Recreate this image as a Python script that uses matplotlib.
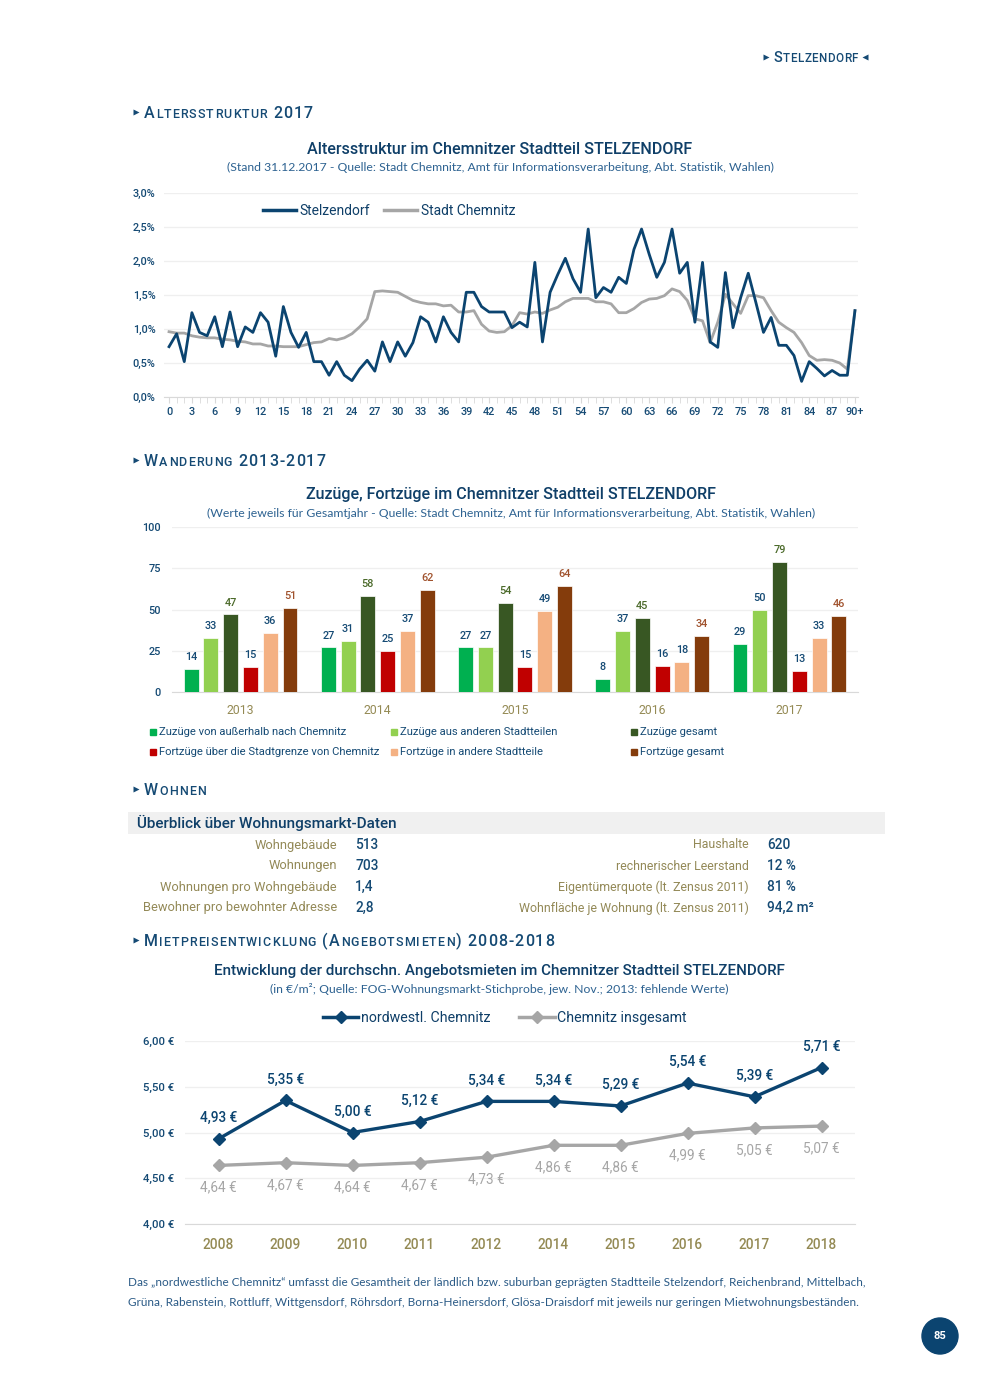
import numpy as np
import matplotlib
matplotlib.use('Agg')
import matplotlib.pyplot as plt
import matplotlib.patches as patches
from matplotlib.lines import Line2D

# Seite Stelzendorf : Altersstruktur, Wanderung, Wohnen, Mietpreise

W, H = 990, 1389
plt.rcParams['font.family'] = ['Roboto', 'DejaVu Sans']

NAVY = '#0b4470'
DUNKELBLAU = '#154a74'
TITELBLAU = '#0f3f68'
HELLBLAU = '#2d6291'
OLIV = '#948a54'
GRAU = '#a6a6a6'
GITTER = '#efefef'
ACHSE = '#d9d9d9'

############################### Daten #################################
# Altersstruktur 2017 (Anteil je Altersjahr in %)
alter = list(range(91))
alter_labels = [str(a) for a in range(0, 90, 3)] + ['90+']
stelzendorf = [0.74, 0.93, 0.52, 1.24, 0.95, 0.90, 1.18, 0.74, 1.25, 0.74,
               1.03, 0.95, 1.24, 1.10, 0.60, 1.33, 0.95, 0.73, 0.95, 0.52,
               0.52, 0.32, 0.52, 0.32, 0.24, 0.41, 0.54, 0.38, 0.81, 0.52,
               0.81, 0.60, 0.80, 1.18, 1.10, 0.81, 1.18, 0.95, 0.81, 1.54,
               1.54, 1.33, 1.25, 1.25, 1.25, 1.02, 1.10, 1.03, 1.98, 0.81,
               1.54, 1.80, 2.04, 1.74, 1.54, 2.47, 1.46, 1.61, 1.54, 1.76,
               1.67, 2.17, 2.47, 2.10, 1.76, 1.98, 2.47, 1.82, 1.98, 1.10,
               1.98, 0.81, 0.73, 1.83, 1.02, 1.46, 1.82, 1.39, 0.95, 1.17,
               0.76, 0.76, 0.61, 0.23, 0.52, 0.42, 0.31, 0.39, 0.32, 0.32,
               1.27]
chemnitz = [0.96, 0.94, 0.94, 0.90, 0.88, 0.87, 0.87, 0.85, 0.84, 0.82,
            0.81, 0.78, 0.78, 0.75, 0.75, 0.74, 0.74, 0.74, 0.77, 0.80,
            0.81, 0.86, 0.84, 0.87, 0.93, 1.03, 1.15, 1.55, 1.56, 1.55,
            1.54, 1.48, 1.42, 1.39, 1.37, 1.37, 1.34, 1.35, 1.25, 1.25,
            1.27, 1.07, 0.97, 0.95, 0.96, 1.05, 1.24, 1.22, 1.25, 1.23,
            1.28, 1.32, 1.40, 1.45, 1.45, 1.45, 1.40, 1.40, 1.37, 1.24,
            1.24, 1.30, 1.39, 1.44, 1.45, 1.49, 1.59, 1.55, 1.42, 1.15,
            1.12, 0.80, 1.10, 1.51, 1.37, 1.23, 1.49, 1.49, 1.46, 1.27,
            1.10, 1.02, 0.95, 0.80, 0.61, 0.54, 0.55, 0.54, 0.50, 0.41,
            1.27]

# Wanderung 2013-2017
jahre_wanderung = ['2013', '2014', '2015', '2016', '2017']
zuzuege_aussen = [14, 27, 27, 8, 29]
zuzuege_stadtteile = [33, 31, 27, 37, 50]
zuzuege_gesamt = [47, 58, 54, 45, 79]
fortzuege_aussen = [15, 25, 15, 16, 13]
fortzuege_stadtteile = [36, 37, 49, 18, 33]
fortzuege_gesamt = [51, 62, 64, 34, 46]
serien_namen = ['Zuzüge von außerhalb nach Chemnitz', 'Zuzüge aus anderen Stadtteilen',
                'Zuzüge gesamt', 'Fortzüge über die Stadtgrenze von Chemnitz',
                'Fortzüge in andere Stadtteile', 'Fortzüge gesamt']

# Wohnen
wohnen_links_labels = ['Wohngebäude', 'Wohnungen', 'Wohnungen pro Wohngebäude',
                       'Bewohner pro bewohnter Adresse']
wohnen_links_werte = ['513', '703', '1,4', '2,8']
wohnen_rechts_labels = ['Haushalte', 'rechnerischer Leerstand',
                        'Eigentümerquote (lt. Zensus 2011)',
                        'Wohnfläche je Wohnung (lt. Zensus 2011)']
wohnen_rechts_werte = ['620', '12 %', '81 %', '94,2 m²']

# Angebotsmieten (2013 fehlt)
miete_jahre = ['2008', '2009', '2010', '2011', '2012', '2014', '2015', '2016', '2017', '2018']
miete_nordwest = [4.93, 5.35, 5.00, 5.12, 5.34, 5.34, 5.29, 5.54, 5.39, 5.71]
miete_chemnitz = [4.64, 4.67, 4.64, 4.67, 4.73, 4.86, 4.86, 4.99, 5.05, 5.07]

fussnote = ['Das „nordwestliche Chemnitz“ umfasst die Gesamtheit der ländlich bzw. suburban geprägten '
            'Stadtteile Stelzendorf, Reichenbrand, Mittelbach,',
            'Grüna, Rabenstein, Rottluff, Wittgensdorf, Röhrsdorf, Borna-Heinersdorf, Glösa-Draisdorf '
            'mit jeweils nur geringen Mietwohnungsbeständen.']
#######################################################################


def rect(x0, y0, x1, y1):
    # Pixelkoordinaten (von oben) -> Figure-Koordinaten
    return [x0 / W, 1 - y1 / H, (x1 - x0) / W, (y1 - y0) / H]


def komma(v, fmt):
    return format(v, fmt).replace('.', ',')


fig = plt.figure(figsize=(W / 100, H / 100), dpi=100)
page = fig.add_axes([0, 0, 1, 1])
page.set_xlim(0, W)
page.set_ylim(H, 0)
page.axis('off')


def kapitaelchen(x, y, txt, gross=11.5, klein=9.0, abstand=0.8, farbe=DUNKELBLAU, mitte=6.5):
    # Kapitälchen mit Sperrung : jeder Buchstabe einzeln, an den vorherigen angehängt
    page.plot([x + 3], [y - mitte], marker='>', ms=5, color=farbe, mec='none')
    t = None
    prev_ch = ' '
    for ch in txt:
        size = klein if (ch.isalpha() and prev_ch.isalpha()) else gross
        if t is None:
            t = page.text(x + 11, y, ch, va='baseline', ha='left', fontsize=size, color=farbe,
                          fontweight='medium')
        else:
            t = page.annotate(ch, xy=(1, y), xycoords=(t, 'data'),
                              xytext=(abstand, 0), textcoords='offset points',
                              va='baseline', ha='left', fontsize=size, color=farbe,
                              fontweight='medium')
        prev_ch = ch
    return t


def titel(x, y, haupt, unter, groesse=11.6):
    page.text(x, y, haupt, ha='center', va='center', fontsize=groesse, color=TITELBLAU,
              fontweight='medium')
    page.text(x, y + 18, unter, ha='center', va='center', fontsize=8.8, color=HELLBLAU,
              family=['Lato', 'DejaVu Sans'])


# Kopfzeile
kapitaelchen(763, 62, 'STELZENDORF', gross=10.5, klein=8.4, abstand=0.3, mitte=5.5)
page.plot([865], [56.5], marker='<', ms=5, color=DUNKELBLAU, mec='none')

###################################### Altersstruktur ######################################
kapitaelchen(133, 118, 'ALTERSSTRUKTUR 2017')
titel(500, 149, 'Altersstruktur im Chemnitzer Stadtteil STELZENDORF',
      '(Stand 31.12.2017 - Quelle: Stadt Chemnitz, Amt für Informationsverarbeitung, Abt. Statistik, Wahlen)')

ax1 = fig.add_axes(rect(164, 193, 858, 397))
ax1.set_facecolor('none')
ax1.plot(alter, chemnitz, color=GRAU, lw=2.0, zorder=2)
ax1.plot(alter, stelzendorf, color=NAVY, lw=2.0, zorder=3)
ax1.set_xlim(-0.66, 90.4)
ax1.set_ylim(0, 3.0)
yt = np.arange(0, 3.01, 0.5)
ax1.set_yticks(yt)
ax1.set_yticklabels([komma(v, '.1f') + '%' for v in yt])
ax1.set_xticks(range(0, 91, 3))
ax1.set_xticklabels(alter_labels)
ax1.set_xticks(range(91), minor=True)
ax1.yaxis.grid(True, color=GITTER, lw=0.9)
ax1.set_axisbelow(True)
for s in ['top', 'right', 'left']:
    ax1.spines[s].set_visible(False)
ax1.spines['bottom'].set_color(ACHSE)
ax1.tick_params(axis='x', which='both', length=4, color=ACHSE, labelsize=7.8,
                labelcolor=DUNKELBLAU, pad=3)
ax1.tick_params(axis='y', length=0, labelsize=7.8, labelcolor=DUNKELBLAU, pad=6)
for lab in ax1.get_xticklabels() + ax1.get_yticklabels():
    lab.set_fontweight('medium')
handles1 = [Line2D([], [], color=NAVY, lw=2.5), Line2D([], [], color=GRAU, lw=2.5)]
ax1.legend(handles1, ['Stelzendorf', 'Stadt Chemnitz'], loc='center left',
           bbox_to_anchor=(0.142, 0.912), ncol=2, frameon=False, fontsize=10,
           handlelength=2.4, handletextpad=0.25, columnspacing=1.0,
           borderaxespad=0, borderpad=0, labelcolor=TITELBLAU)

###################################### Wanderung ######################################
kapitaelchen(133, 466, 'WANDERUNG 2013-2017')
titel(511, 495, 'Zuzüge, Fortzüge im Chemnitzer Stadtteil STELZENDORF',
      '(Werte jeweils für Gesamtjahr - Quelle: Stadt Chemnitz, Amt für Informationsverarbeitung, Abt. Statistik, Wahlen)')

serien = [zuzuege_aussen, zuzuege_stadtteile, zuzuege_gesamt,
          fortzuege_aussen, fortzuege_stadtteile, fortzuege_gesamt]
farben = ['#00b050', '#92d050', '#385723', '#c00000', '#f4b183', '#843c0c']
label_farben = [DUNKELBLAU, DUNKELBLAU, '#4b6a2a', DUNKELBLAU, DUNKELBLAU, '#a0522d']

ax2 = fig.add_axes(rect(172, 527, 858, 692))
ax2.set_facecolor('none')
x = np.arange(len(jahre_wanderung))
breite = 0.109
abstand = 0.144
for i, (werte, farbe, lf) in enumerate(zip(serien, farben, label_farben)):
    bars = ax2.bar(x + (i - 2.5) * abstand, werte, width=breite, color=farbe,
                   edgecolor='white', linewidth=0.5, zorder=3)
    ax2.bar_label(bars, padding=5, fontsize=7.8, color=lf, fontweight='medium')
ax2.set_xlim(-0.5, 4.5)
ax2.set_ylim(0, 100)
ax2.set_yticks([0, 25, 50, 75, 100])
ax2.set_xticks(x)
ax2.set_xticklabels(jahre_wanderung)
ax2.yaxis.grid(True, color=GITTER, lw=0.9)
ax2.set_axisbelow(True)
for s in ['top', 'right', 'left']:
    ax2.spines[s].set_visible(False)
ax2.spines['bottom'].set_color(ACHSE)
ax2.tick_params(axis='x', length=0, labelsize=8.8, labelcolor=OLIV, pad=9)
ax2.tick_params(axis='y', length=0, labelsize=7.8, labelcolor=DUNKELBLAU, pad=8)
for lab in ax2.get_yticklabels():
    lab.set_fontweight('medium')

# Legende unter dem Diagramm
spalten_x = [153, 394, 634]
zeilen_y = [732, 752]
for i, (name, farbe) in enumerate(zip(serien_namen, farben)):
    px = spalten_x[i % 3]
    py = zeilen_y[i // 3]
    page.add_patch(patches.Rectangle((px - 3, py - 3), 6, 6, color=farbe))
    page.text(px + 6, py, name, va='center', fontsize=8.1, color=DUNKELBLAU)

###################################### Wohnen ######################################
kapitaelchen(133, 795, 'WOHNEN')
page.add_patch(patches.Rectangle((128, 812), 757, 22, color='#f0f0f0', lw=0))
page.text(137, 823, 'Überblick über Wohnungsmarkt-Daten', va='center', fontsize=11,
          color=TITELBLAU, fontweight='medium')
zeilen = [845, 866, 887, 908]
for zy, l1, w1, l2, w2 in zip(zeilen, wohnen_links_labels, wohnen_links_werte,
                              wohnen_rechts_labels, wohnen_rechts_werte):
    page.text(337, zy, l1, ha='right', va='center', fontsize=9.3, color='#938957')
    page.text(355, zy, w1, ha='left', va='center', fontsize=9.8, color=DUNKELBLAU,
              fontweight='medium')
    page.text(749, zy, l2, ha='right', va='center', fontsize=8.9, color='#938957')
    page.text(767, zy, w2, ha='left', va='center', fontsize=9.8, color=DUNKELBLAU,
              fontweight='medium')

###################################### Mietpreise ######################################
kapitaelchen(133, 946, 'MIETPREISENTWICKLUNG (ANGEBOTSMIETEN) 2008-2018')
titel(499, 971, 'Entwicklung der durchschn. Angebotsmieten im Chemnitzer Stadtteil STELZENDORF',
      '(in €/m²; Quelle: FOG-Wohnungsmarkt-Stichprobe, jew. Nov.; 2013: fehlende Werte)',
      groesse=10.9)

ax4 = fig.add_axes(rect(185, 1041, 855, 1224))
ax4.set_facecolor('none')
xm = np.arange(len(miete_jahre))
ax4.plot(xm, miete_chemnitz, color=GRAU, lw=2.4, marker='D', ms=6.5, zorder=3)
ax4.plot(xm, miete_nordwest, color=NAVY, lw=2.4, marker='D', ms=6.5, zorder=4)
for xi, v in zip(xm, miete_nordwest):
    ax4.annotate(komma(v, '.2f') + ' €', (xi, v), xytext=(0, 15), textcoords='offset points',
                 ha='center', va='center', fontsize=9.8, color=NAVY, fontweight='medium')
for xi, v in zip(xm, miete_chemnitz):
    ax4.annotate(komma(v, '.2f') + ' €', (xi, v), xytext=(0, -16), textcoords='offset points',
                 ha='center', va='center', fontsize=9.8, color=GRAU)
ax4.set_xlim(-0.5, 9.5)
ax4.set_ylim(4.0, 6.0)
ytm = np.arange(4.0, 6.01, 0.5)
ax4.set_yticks(ytm)
ax4.set_yticklabels([komma(v, '.2f') + ' €' for v in ytm])
ax4.set_xticks(xm)
ax4.set_xticklabels(miete_jahre)
ax4.yaxis.grid(True, color=GITTER, lw=0.9)
ax4.set_axisbelow(True)
for s in ['top', 'right', 'left']:
    ax4.spines[s].set_visible(False)
ax4.spines['bottom'].set_color(ACHSE)
ax4.tick_params(axis='x', length=0, labelsize=9.8, labelcolor=OLIV, pad=10)
ax4.tick_params(axis='y', length=0, labelsize=8.2, labelcolor=DUNKELBLAU, pad=8)
for lab in ax4.get_yticklabels() + ax4.get_xticklabels():
    lab.set_fontweight('medium')
handles4 = [Line2D([], [], color=NAVY, lw=2.5, marker='D', ms=6),
            Line2D([], [], color=GRAU, lw=2.5, marker='D', ms=6)]
ax4.legend(handles4, ['nordwestl. Chemnitz', 'Chemnitz insgesamt'], loc='center left',
           bbox_to_anchor=(0.206, 1.126), ncol=2, frameon=False, fontsize=10.2,
           handlelength=2.5, handletextpad=0.2, columnspacing=2.0,
           borderaxespad=0, borderpad=0, labelcolor=TITELBLAU)

# Fussnote
for zy, zeile in zip([1282, 1302], fussnote):
    page.text(128, zy, zeile, va='center', fontsize=8.5, color='#2a5a86',
              family=['Lato', 'DejaVu Sans'])

# Seitenzahl
page.add_patch(patches.Circle((940, 1336), 18, color=NAVY))
page.text(940, 1336, '85', ha='center', va='center', fontsize=8, color='white',
          fontweight='bold')

fig.savefig('out.png', dpi=100)
